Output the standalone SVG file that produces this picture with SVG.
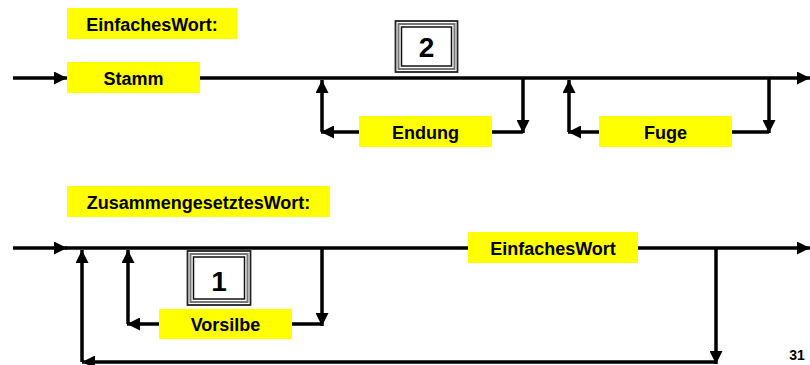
<svg xmlns="http://www.w3.org/2000/svg" width="810" height="365" viewBox="0 0 810 365">
<defs>
<marker id="ah" markerUnits="userSpaceOnUse" markerWidth="13" markerHeight="13" viewBox="0 0 13 13" refX="13" refY="6.5" orient="auto">
<path d="M0,0 L13,6.5 L0,13 Z" fill="#000"/>
</marker>
<style>
.box{fill:#ffff00}
.lbl{font-family:"Liberation Sans",Arial,sans-serif;font-weight:bold;font-size:18px;fill:#000;text-anchor:middle}
.num{font-family:"Liberation Sans",Arial,sans-serif;font-weight:bold;font-size:28px;fill:#000;text-anchor:middle}
.c{stroke:#000;stroke-width:3.5;fill:none}
.a{marker-end:url(#ah)}
.f1{fill:#fff;stroke:#222;stroke-width:1.8}
.f2{fill:none;stroke:#777;stroke-width:2}
.f3{fill:#fff;stroke:#111;stroke-width:1.5}
</style>
</defs>
<rect width="810" height="365" fill="#fff"/>
<g id="connectors">
<line class="c a" x1="13" y1="78" x2="67" y2="78"/>
<line class="c a" x1="200" y1="78" x2="810" y2="78"/>
<polyline class="c a" points="523,78 523,133"/>
<line class="c" x1="492" y1="132" x2="523" y2="132"/>
<line class="c a" x1="359" y1="132" x2="321" y2="132"/>
<line class="c a" x1="322" y1="132" x2="322" y2="80"/>
<polyline class="c a" points="769,78 769,133"/>
<line class="c" x1="732" y1="132" x2="769" y2="132"/>
<line class="c a" x1="599" y1="132" x2="568" y2="132"/>
<line class="c a" x1="569" y1="132" x2="569" y2="80"/>
<line class="c a" x1="13" y1="248" x2="67" y2="248"/>
<line class="c" x1="65" y1="248" x2="468" y2="248"/>
<line class="c a" x1="638" y1="248" x2="810" y2="248"/>
<line class="c a" x1="716" y1="248" x2="716" y2="364"/>
<line class="c a" x1="716" y1="362" x2="82" y2="362"/>
<line class="c a" x1="82" y1="362" x2="82" y2="250"/>
<line class="c a" x1="322" y1="248" x2="322" y2="326"/>
<line class="c" x1="292" y1="324" x2="322" y2="324"/>
<line class="c a" x1="159" y1="324" x2="127" y2="324"/>
<line class="c a" x1="128" y1="324" x2="128" y2="250"/>
</g>
<g id="title1">
<rect class="box" x="67" y="8" width="170" height="31"/>
<text class="lbl" x="152" y="30.5">EinfachesWort:</text>
</g>
<g id="stamm">
<rect class="box" x="67" y="62" width="133" height="31"/>
<text class="lbl" x="133.5" y="84.5">Stamm</text>
</g>
<g id="endung">
<rect class="box" x="359" y="116" width="133" height="31"/>
<text class="lbl" x="425.5" y="138.5">Endung</text>
</g>
<g id="fuge">
<rect class="box" x="599" y="116" width="133" height="31"/>
<text class="lbl" x="665.5" y="138.5">Fuge</text>
</g>
<g id="num2">
<rect class="f1" x="395.5" y="21" width="62" height="51"/>
<rect class="f2" x="398.5" y="24" width="56" height="45"/>
<rect class="f3" x="401.5" y="27" width="50" height="39"/>
<text class="num" x="426.5" y="57">2</text>
</g>
<g id="title2">
<rect class="box" x="67" y="186" width="263" height="31"/>
<text class="lbl" x="198.5" y="208.5">ZusammengesetztesWort:</text>
</g>
<g id="einfachesWort">
<rect class="box" x="468" y="232" width="170" height="31"/>
<text class="lbl" x="553" y="254.5">EinfachesWort</text>
</g>
<g id="vorsilbe">
<rect class="box" x="159" y="309" width="133" height="30"/>
<text class="lbl" x="225.5" y="331">Vorsilbe</text>
</g>
<g id="num1">
<rect class="f1" x="187.5" y="251" width="63" height="54"/>
<rect class="f2" x="190.5" y="254" width="57" height="48"/>
<rect class="f3" x="193.5" y="257" width="51" height="42"/>
<text class="num" x="219" y="291">1</text>
</g>
<text class="lbl" x="797" y="360" style="font-size:14px">31</text>
</svg>
